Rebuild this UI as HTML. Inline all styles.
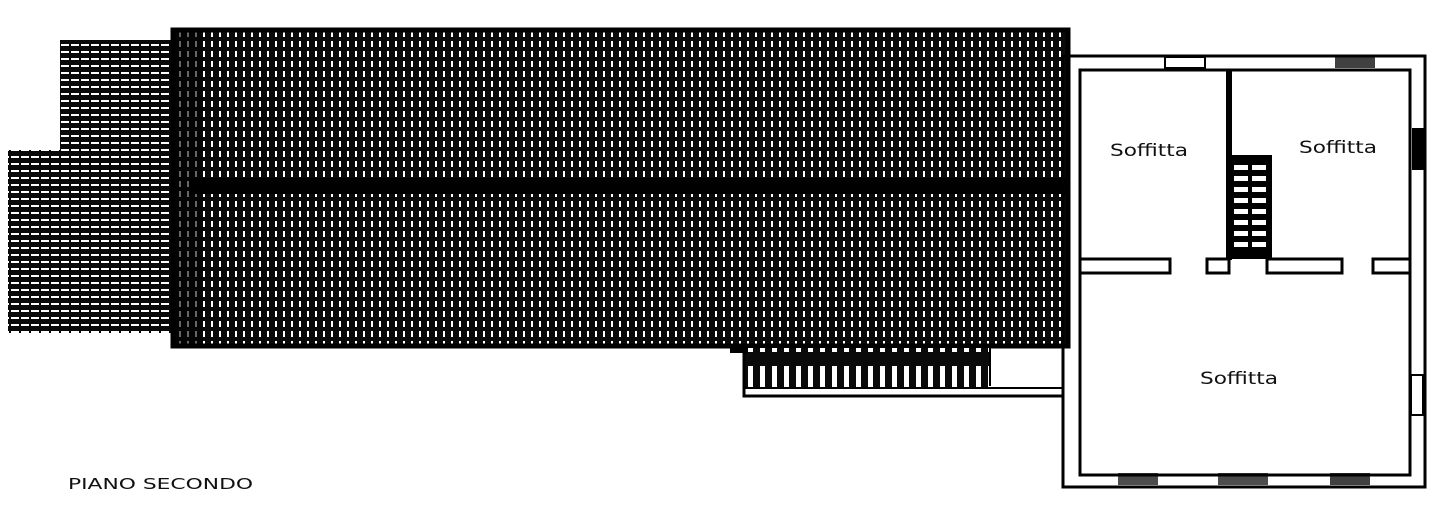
<!DOCTYPE html>
<html><head><style>
html,body{margin:0;padding:0;background:#fff;}
svg{display:block}
text{font-family:"DejaVu Sans","Liberation Sans",sans-serif;fill:#111}
</style></head><body>
<svg width="1440" height="524" viewBox="0 0 1440 524">
<defs>
<pattern id="v" width="8" height="10" patternUnits="userSpaceOnUse">
<rect width="8" height="10" fill="#0a0a0a"/>
<rect x="3" y="1" width="2" height="6" fill="#fff"/>
</pattern>
<pattern id="s" width="12" height="40" patternUnits="userSpaceOnUse">
<rect width="12" height="40" fill="#0a0a0a"/>
<rect x="4" y="6" width="5" height="26" fill="#fff"/>
</pattern>
<pattern id="h" width="10" height="7" patternUnits="userSpaceOnUse">
<rect width="10" height="7" fill="#0a0a0a"/>
<rect x="1" y="2" width="8" height="2" fill="#fff"/>
</pattern>
</defs>
<rect x="60" y="40" width="115" height="112" fill="url(#h)"/>
<rect x="8" y="150" width="167" height="183" fill="url(#h)"/>
<rect x="173" y="30" width="895" height="316" fill="url(#v)"/>
<rect x="173" y="30" width="895" height="316" fill="none" stroke="#000" stroke-width="5"/>
<rect x="190" y="178" width="878" height="16" fill="#000"/>
<rect x="173" y="30" width="30" height="316" fill="#000" opacity="0.6"/>
<rect x="744" y="348" width="246" height="40" fill="url(#s)"/>
<rect x="730" y="347" width="18" height="6" fill="#000"/>
<path d="M744 352 V396 H1062" fill="none" stroke="#000" stroke-width="3"/>
<path d="M744 388 H1062" stroke="#000" stroke-width="2"/>
<path d="M990 347 V386" stroke="#000" stroke-width="2"/>
<rect x="1063" y="56" width="362" height="431" fill="none" stroke="#000" stroke-width="3"/>
<rect x="1080" y="70" width="330" height="405" fill="none" stroke="#000" stroke-width="3"/>
<rect x="1165" y="57" width="40" height="11" fill="#fff" stroke="#000" stroke-width="2"/>
<rect x="1335" y="57" width="40" height="11" fill="#000" opacity="0.75"/>
<rect x="1412" y="128" width="12" height="42" fill="#000"/>
<rect x="1411" y="375" width="12" height="40" fill="#fff" stroke="#000" stroke-width="2"/>
<rect x="1118" y="473" width="40" height="12" fill="#000" opacity="0.7"/>
<rect x="1218" y="473" width="50" height="12" fill="#000" opacity="0.7"/>
<rect x="1330" y="473" width="40" height="12" fill="#000" opacity="0.75"/>
<rect x="1226" y="70" width="6" height="190" fill="#000"/>
<rect x="1226" y="155" width="46" height="104" fill="#000"/>
<g fill="#fff">
<rect x="1234" y="165" width="14" height="5"/><rect x="1252" y="165" width="14" height="5"/>
<rect x="1234" y="176" width="14" height="5"/><rect x="1252" y="176" width="14" height="5"/>
<rect x="1234" y="187" width="14" height="5"/><rect x="1252" y="187" width="14" height="5"/>
<rect x="1234" y="198" width="14" height="5"/><rect x="1252" y="198" width="14" height="5"/>
<rect x="1234" y="209" width="14" height="5"/><rect x="1252" y="209" width="14" height="5"/>
<rect x="1234" y="220" width="14" height="5"/><rect x="1252" y="220" width="14" height="5"/>
<rect x="1234" y="231" width="14" height="5"/><rect x="1252" y="231" width="14" height="5"/>
<rect x="1234" y="242" width="14" height="5"/><rect x="1252" y="242" width="14" height="5"/>
</g>
<g fill="#fff" stroke="#000" stroke-width="3">
<rect x="1080" y="259" width="90" height="14"/>
<rect x="1207" y="259" width="22" height="14"/>
<rect x="1267" y="259" width="75" height="14"/>
<rect x="1373" y="259" width="37" height="14"/>
</g>
<g font-size="17" font-weight="500" textLength="78">
<text x="1110" y="156" textLength="78" lengthAdjust="spacingAndGlyphs">Soffitta</text>
<text x="1299" y="153" textLength="78" lengthAdjust="spacingAndGlyphs">Soffitta</text>
<text x="1200" y="384" textLength="78" lengthAdjust="spacingAndGlyphs">Soffitta</text>
</g>
<text x="68" y="489" font-size="15" textLength="185" lengthAdjust="spacingAndGlyphs">PIANO SECONDO</text>
</svg>
</body></html>
